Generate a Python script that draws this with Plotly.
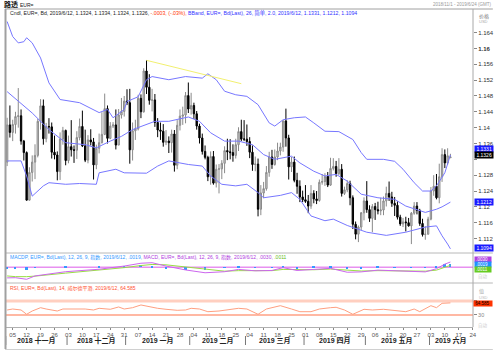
import pandas as pd
import plotly.graph_objects as go

# ---------------- data ----------------
opens = [1.1313, 1.1407, 1.1388, 1.1408, 1.1428, 1.1430, 1.1366, 1.1337, 1.1217, 1.1287, 1.1313, 1.1330, 1.1416, 1.1455, 1.1372, 1.1403, 1.1402, 1.1338, 1.1331, 1.1289, 1.1371, 1.1393,
         1.1317, 1.1352, 1.1344, 1.1343, 1.1375, 1.1403, 1.1354, 1.1318, 1.1369, 1.1364, 1.1306, 1.1348, 1.1362, 1.1383, 1.1448, 1.1373, 1.1404, 1.1407, 1.1356, 1.1432, 1.1441,
         1.1467, 1.1463, 1.1344, 1.1392, 1.1397, 1.1474, 1.1440, 1.1543, 1.1502, 1.1469, 1.1470, 1.1413, 1.1394, 1.1391, 1.1363, 1.1366, 1.1362, 1.1384, 1.1305, 1.1406, 1.1429, 1.1432, 1.1481,
         1.1447, 1.1456, 1.1435, 1.1404, 1.1374, 1.1340, 1.1325, 1.1276, 1.1327, 1.1260, 1.1295, 1.1296, 1.1310, 1.1342, 1.1339, 1.1337, 1.1330, 1.1357, 1.1390, 1.1371,
         1.1371, 1.1365, 1.1338, 1.1307, 1.1308, 1.1194, 1.1235, 1.1246, 1.1287, 1.1326, 1.1307, 1.1326, 1.1341, 1.1351, 1.1417, 1.1374, 1.1301, 1.1313, 1.1267, 1.1252, 1.1225,
         1.1218, 1.1214, 1.1202, 1.1234, 1.1220, 1.1216, 1.1262, 1.1264, 1.1277, 1.1255, 1.1297, 1.1302, 1.1284, 1.1295, 1.1234, 1.1243, 1.1259, 1.1223, 1.1156, 1.1131, 1.1149, 1.1185,
         1.1215, 1.1193, 1.1171, 1.1201, 1.1193, 1.1190, 1.1192, 1.1215, 1.1234, 1.1225, 1.1209, 1.1204, 1.1174, 1.1157, 1.1162, 1.1160, 1.1152, 1.1184, 1.1202, 1.1191, 1.1158, 1.1130, 1.1131,
         1.1169, 1.1240, 1.1252, 1.1223, 1.1276, 1.1332, 1.1311, 1.1324]
highs = [1.1425, 1.1456, 1.1420, 1.1440, 1.1500, 1.1446, 1.1369, 1.1340, 1.1300, 1.1330, 1.1358, 1.1422, 1.1472, 1.1471, 1.1412, 1.1424, 1.1413, 1.1380, 1.1340, 1.1388, 1.1402, 1.1395,
         1.1380, 1.1419, 1.1355, 1.1391, 1.1423, 1.1443, 1.1395, 1.1381, 1.1396, 1.1374, 1.1357, 1.1385, 1.1439, 1.1486, 1.1456, 1.1414, 1.1414, 1.1446, 1.1447, 1.1475, 1.1480,
         1.1497, 1.1498, 1.1413, 1.1420, 1.1483, 1.1484, 1.1550, 1.1570, 1.1535, 1.1498, 1.1485, 1.1424, 1.1413, 1.1409, 1.1394, 1.1378, 1.1395, 1.1394, 1.1419, 1.1446, 1.1453, 1.1490, 1.1514,
         1.1488, 1.1463, 1.1442, 1.1410, 1.1385, 1.1355, 1.1329, 1.1340, 1.1341, 1.1307, 1.1308, 1.1318, 1.1353, 1.1372, 1.1371, 1.1358, 1.1372, 1.1401, 1.1420, 1.1419,
         1.1408, 1.1376, 1.1355, 1.1327, 1.1322, 1.1255, 1.1263, 1.1303, 1.1339, 1.1344, 1.1345, 1.1362, 1.1362, 1.1418, 1.1448, 1.1382, 1.1326, 1.1327, 1.1286, 1.1267, 1.1241,
         1.1255, 1.1230, 1.1255, 1.1242, 1.1240, 1.1269, 1.1283, 1.1285, 1.1288, 1.1324, 1.1323, 1.1316, 1.1323, 1.1308, 1.1251, 1.1267, 1.1266, 1.1229, 1.1163, 1.1153, 1.1187, 1.1224,
         1.1265, 1.1204, 1.1207, 1.1210, 1.1213, 1.1223, 1.1226, 1.1251, 1.1264, 1.1238, 1.1225, 1.1214, 1.1180, 1.1172, 1.1175, 1.1172, 1.1187, 1.1212, 1.1212, 1.1195, 1.1170, 1.1151, 1.1175,
         1.1250, 1.1280, 1.1283, 1.1309, 1.1348, 1.1345, 1.1348, 1.1334]
lows = [1.1303, 1.1375, 1.1366, 1.1385, 1.1400, 1.1357, 1.1317, 1.1216, 1.1216, 1.1264, 1.1270, 1.1325, 1.1395, 1.1357, 1.1363, 1.1385, 1.1322, 1.1320, 1.1267, 1.1268, 1.1357, 1.1305,
        1.1310, 1.1327, 1.1311, 1.1321, 1.1368, 1.1351, 1.1313, 1.1310, 1.1355, 1.1269, 1.1295, 1.1335, 1.1360, 1.1381, 1.1360, 1.1371, 1.1399, 1.1345, 1.1356, 1.1423, 1.1428,
        1.1457, 1.1309, 1.1317, 1.1369, 1.1393, 1.1424, 1.1438, 1.1485, 1.1458, 1.1441, 1.1402, 1.1376, 1.1369, 1.1352, 1.1356, 1.1336, 1.1337, 1.1289, 1.1295, 1.1393, 1.1407, 1.1411, 1.1437,
        1.1433, 1.1422, 1.1395, 1.1360, 1.1332, 1.1320, 1.1265, 1.1256, 1.1256, 1.1249, 1.1234, 1.1270, 1.1285, 1.1318, 1.1320, 1.1314, 1.1322, 1.1341, 1.1366, 1.1366,
        1.1354, 1.1323, 1.1291, 1.1290, 1.1176, 1.1179, 1.1222, 1.1241, 1.1276, 1.1296, 1.1304, 1.1318, 1.1330, 1.1339, 1.1352, 1.1269, 1.1288, 1.1262, 1.1233, 1.1212, 1.1212,
        1.1210, 1.1184, 1.1195, 1.1209, 1.1207, 1.1213, 1.1256, 1.1253, 1.1250, 1.1253, 1.1292, 1.1276, 1.1280, 1.1226, 1.1230, 1.1237, 1.1204, 1.1144, 1.1118, 1.1111, 1.1141, 1.1166,
        1.1185, 1.1162, 1.1136, 1.1167, 1.1181, 1.1179, 1.1179, 1.1201, 1.1215, 1.1200, 1.1177, 1.1168, 1.1152, 1.1149, 1.1138, 1.1150, 1.1106, 1.1180, 1.1181, 1.1152, 1.1125, 1.1117, 1.1130,
        1.1166, 1.1228, 1.1219, 1.1209, 1.1263, 1.1298, 1.1306, 1.1324]
closes = [1.1407, 1.1388, 1.1408, 1.1428, 1.1430, 1.1366, 1.1337, 1.1217, 1.1287, 1.1313, 1.1330, 1.1416, 1.1455, 1.1372, 1.1403, 1.1402, 1.1338, 1.1331, 1.1289, 1.1371, 1.1393, 1.1317,
          1.1352, 1.1344, 1.1343, 1.1375, 1.1403, 1.1354, 1.1318, 1.1369, 1.1364, 1.1306, 1.1348, 1.1362, 1.1383, 1.1448, 1.1373, 1.1404, 1.1407, 1.1356, 1.1432, 1.1441, 1.1467,
          1.1463, 1.1344, 1.1392, 1.1397, 1.1474, 1.1440, 1.1543, 1.1502, 1.1469, 1.1470, 1.1413, 1.1394, 1.1391, 1.1363, 1.1366, 1.1362, 1.1384, 1.1305, 1.1406, 1.1429, 1.1432, 1.1481, 1.1447,
          1.1456, 1.1435, 1.1404, 1.1374, 1.1340, 1.1325, 1.1276, 1.1327, 1.1260, 1.1295, 1.1296, 1.1310, 1.1342, 1.1339, 1.1337, 1.1330, 1.1357, 1.1390, 1.1371, 1.1371,
          1.1365, 1.1338, 1.1307, 1.1308, 1.1194, 1.1235, 1.1246, 1.1287, 1.1326, 1.1307, 1.1326, 1.1341, 1.1351, 1.1417, 1.1374, 1.1301, 1.1313, 1.1267, 1.1252, 1.1225, 1.1218,
          1.1214, 1.1202, 1.1234, 1.1220, 1.1216, 1.1262, 1.1264, 1.1277, 1.1255, 1.1297, 1.1302, 1.1284, 1.1295, 1.1234, 1.1243, 1.1259, 1.1223, 1.1156, 1.1131, 1.1149, 1.1185, 1.1215,
          1.1193, 1.1171, 1.1201, 1.1193, 1.1190, 1.1192, 1.1215, 1.1234, 1.1225, 1.1209, 1.1204, 1.1174, 1.1157, 1.1162, 1.1160, 1.1152, 1.1184, 1.1202, 1.1191, 1.1158, 1.1130, 1.1131, 1.1169,
          1.1240, 1.1252, 1.1223, 1.1276, 1.1332, 1.1311, 1.1329, 1.1326]

# Bollinger bands (26, 2.0); *_day = business-day number since 2018-11-01
upper_day = [0, 2, 4, 6, 7, 9, 12, 15, 19, 26, 33, 36, 38, 42, 43, 47, 50, 52, 58, 64, 70, 72, 75, 78, 82, 86, 90, 94, 96, 99, 103, 107, 110, 114, 119, 124, 127, 129, 135, 139, 142, 146, 149, 152, 154, 157, 159]
upper_val = [1.1668, 1.1630, 1.1614, 1.1617, 1.1627, 1.1614, 1.1576, 1.1513, 1.1471, 1.1463, 1.1438, 1.1446, 1.1425, 1.1446, 1.1466, 1.1478, 1.1521, 1.1529, 1.1521, 1.1529, 1.1525, 1.1536, 1.1521, 1.1492, 1.1483, 1.1479, 1.1458, 1.1412, 1.1404, 1.1420, 1.1425, 1.1427, 1.1412, 1.1391, 1.1390, 1.1370, 1.1337, 1.1320, 1.1320, 1.1315, 1.1295, 1.1261, 1.1240, 1.1240, 1.1253, 1.1286, 1.1331]
mid_day = [0, 9, 15, 21, 28, 32, 37, 41, 45, 50, 53, 58, 65, 69, 73, 78, 83, 88, 92, 96, 102, 105, 110, 114, 118, 122, 127, 133, 139, 143, 148, 150, 154, 156, 159]
mid_val = [1.1491, 1.1437, 1.1395, 1.1362, 1.1357, 1.1349, 1.1366, 1.1378, 1.1395, 1.1408, 1.1416, 1.1416, 1.1427, 1.1416, 1.1387, 1.1366, 1.1366, 1.1357, 1.1332, 1.1320, 1.1328, 1.1311, 1.1290, 1.1278, 1.1282, 1.1265, 1.1232, 1.1223, 1.1219, 1.1202, 1.1190, 1.1186, 1.1194, 1.1200, 1.1212]
lower_day = [0, 5, 7, 9, 13, 15, 21, 26, 32, 33, 39, 42, 50, 54, 58, 62, 65, 70, 73, 77, 82, 86, 90, 92, 98, 102, 105, 109, 114, 117, 122, 129, 136, 143, 150, 154, 156, 158, 159]
lower_val = [1.1316, 1.1316, 1.1278, 1.1227, 1.1253, 1.1261, 1.1257, 1.1259, 1.1257, 1.1286, 1.1295, 1.1286, 1.1285, 1.1303, 1.1316, 1.1311, 1.1307, 1.1303, 1.1278, 1.1257, 1.1253, 1.1257, 1.1236, 1.1223, 1.1229, 1.1236, 1.1219, 1.1177, 1.1165, 1.1169, 1.1153, 1.1136, 1.1128, 1.1136, 1.1149, 1.1152, 1.1127, 1.1106, 1.1094]

trend_day = [50, 84]
trend_val = [1.1570, 1.1511]

macd_day = [0, 3, 7, 10, 21, 33, 42, 48, 52, 57, 64, 71, 78, 83, 89, 95, 99, 104, 110, 116, 122, 127, 133, 139, 145, 150, 154, 157, 159]
macd_val = [-0.0060, -0.0059, -0.0068, -0.0049, -0.0025, -0.0011, 0.0007, 0.0023, 0.0026, 0.0007, -0.0015, -0.0031, -0.0025, -0.0012, -0.0020, -0.0018, -0.0002, -0.0018, -0.0012, -0.0006, -0.0028, -0.0026, -0.0016, -0.0020, -0.0022, -0.0026, -0.0008, 0.0018, 0.0030]
signal_val = [-0.0049, -0.0053, -0.0053, -0.0050, -0.0033, -0.0016, -0.0002, 0.0010, 0.0016, 0.0014, 0.0002, -0.0014, -0.0022, -0.0019, -0.0019, -0.0019, -0.0012, -0.0013, -0.0014, -0.0010, -0.0016, -0.0021, -0.0019, -0.0019, -0.0020, -0.0022, -0.0016, -0.0001, 0.0011]

rsi_day = [0, 2, 5, 7, 9, 12, 14, 18, 20, 25, 28, 31, 33, 37, 40, 42, 45, 48, 51, 54, 57, 61, 64, 66, 69, 72, 76, 80, 83, 86, 90, 93, 98, 102, 105, 109, 112, 116, 118, 121, 124, 128, 131, 135, 140, 143, 146, 148, 152, 154, 156, 159]
rsi_val = [44.3, 47.1, 44.3, 32.0, 41.4, 50.9, 47.1, 41.4, 47.1, 46.3, 47.1, 44.3, 49.1, 46.3, 52.9, 47.1, 50.9, 58.6, 53.7, 49.1, 46.3, 43.4, 44.3, 49.1, 47.1, 39.4, 41.4, 46.3, 49.1, 47.1, 32.0, 47.1, 56.6, 47.1, 39.4, 39.4, 47.1, 50.9, 52.0, 44.3, 32.0, 46.3, 44.3, 46.3, 41.4, 39.4, 47.1, 39.4, 56.6, 50.9, 63.4, 64.585]

price_ticks = [1.112, 1.116, 1.12, 1.124, 1.128, 1.132, 1.136, 1.14, 1.144, 1.148, 1.152, 1.156, 1.16, 1.164]
price_tick_text = ["1.112", "1.116", "1.12", "1.124", "1.128", "", "1.136", "1.14", "1.144", "1.148", "1.152", "1.156", "<b>1.16</b>", "1.164"]
month_names = ["2018 十一月", "2018 十二月", "2019 一月", "2019 二月", "2019 三月", "2019 四月", "2019 五月", "2019 六月"]

# ---------------- layout helpers ----------------
W, H = 500, 352
L, R, T, B = 6, 23, 9, 25
PW, PH = W - L - R, H - T - B


def px(xp):
    return (xp - L) / PW


def py(yp):
    return (H - B - yp) / PH


FONT = "Liberation Sans, Noto Sans CJK SC, sans-serif"

days = pd.bdate_range("2018-11-01", "2019-06-12")
axis_days = pd.bdate_range("2018-11-01", "2019-06-24")
xs = list(range(len(days)))
mondays = [i for i, d in enumerate(axis_days) if d.weekday() == 0]
monday_text = [axis_days[i].strftime("%d") for i in mondays]
x_range = [-0.4, len(axis_days) - 1 + 0.1]

hist_val = [m - s for m, s in zip(macd_val, signal_val)]

fig = go.Figure()
fig.add_trace(go.Scatter(x=upper_day, y=upper_val, mode="lines", line=dict(color="#7777ff", width=1), hoverinfo="skip"))
fig.add_trace(go.Scatter(x=mid_day, y=mid_val, mode="lines", line=dict(color="#7777ff", width=1), hoverinfo="skip"))
fig.add_trace(go.Scatter(x=lower_day, y=lower_val, mode="lines", line=dict(color="#7777ff", width=1), hoverinfo="skip"))
fig.add_trace(go.Scatter(x=trend_day, y=trend_val, mode="lines", line=dict(color="#f2f070", width=1), hoverinfo="skip"))
fig.add_trace(go.Candlestick(
    x=xs, open=opens, high=highs, low=lows, close=closes,
    increasing=dict(line=dict(color="#8a8a8a", width=1), fillcolor="#cfcfcf"),
    decreasing=dict(line=dict(color="#000000", width=1), fillcolor="#000000"),
    whiskerwidth=0, hoverinfo="skip"))

fig.add_trace(go.Bar(x=macd_day, y=hist_val, yaxis="y2", marker=dict(color="#3399ff", line=dict(width=0)), width=0.7, hoverinfo="skip"))
fig.add_trace(go.Scatter(x=macd_day, y=signal_val, yaxis="y2", mode="lines", line=dict(color="#99dd44", width=1), hoverinfo="skip"))
fig.add_trace(go.Scatter(x=macd_day, y=macd_val, yaxis="y2", mode="lines", line=dict(color="#cc66ee", width=1), hoverinfo="skip"))
fig.add_trace(go.Scatter(x=rsi_day, y=rsi_val, yaxis="y3", mode="lines", line=dict(color="#ff9f80", width=1), hoverinfo="skip"))

shapes = []
# indicator reference lines
shapes.append(dict(type="line", xref="x", yref="y2", x0=x_range[0], x1=x_range[1], y0=0, y1=0, line=dict(color="#e890f0", width=1.5), layer="below"))
shapes.append(dict(type="line", xref="x", yref="y3", x0=x_range[0], x1=x_range[1], y0=70, y1=70, line=dict(color="#ffcfc0", width=3), layer="below"))
shapes.append(dict(type="line", xref="x", yref="y3", x0=x_range[0], x1=x_range[1], y0=30, y1=30, line=dict(color="#ffa085", width=1.5), layer="below"))
# panel separators and frame
for yp in (253, 283):
    shapes.append(dict(type="line", xref="paper", yref="paper", x0=px(5), x1=px(497), y0=py(yp), y1=py(yp), line=dict(color="#b8b8b8", width=1)))
shapes.append(dict(type="line", xref="paper", yref="paper", x0=px(5), x1=px(497), y0=py(9), y1=py(9), line=dict(color="#a0a0a0", width=1)))
shapes.append(dict(type="line", xref="paper", yref="paper", x0=px(5.5), x1=px(5.5), y0=py(9), y1=py(349), line=dict(color="#a0a0a0", width=2)))
shapes.append(dict(type="line", xref="paper", yref="paper", x0=px(5), x1=px(497), y0=py(349.5), y1=py(349.5), line=dict(color="#d0d0d0", width=1)))
shapes.append(dict(type="line", xref="paper", yref="paper", x0=px(477), x1=px(477), y0=py(9), y1=py(327), line=dict(color="#a8a8a8", width=1)))

# month separators and labels
month_starts = []
for i, d in enumerate(axis_days):
    if i == 0 or d.month != axis_days[i - 1].month:
        month_starts.append(i - 0.5)
month_bounds = month_starts + [x_range[1]]
annotations = []
for k, name in enumerate(month_names):
    a, b = month_bounds[k], month_bounds[k + 1]
    annotations.append(dict(x=(a + b) / 2, y=py(340.5), xref="x", yref="paper", text="<b>" + name + "</b>", showarrow=False,
                            font=dict(family=FONT, size=7, color="#222"), xanchor="center", yanchor="middle"))
for s in month_starts:
    shapes.append(dict(type="line", xref="x", yref="paper", x0=s, x1=s, y0=py(336), y1=py(345), line=dict(color="#777", width=1)))


def label(xp, yp, text, size=5, color="#333", anchor="left", bg=None):
    d = dict(x=px(xp), y=py(yp), xref="paper", yref="paper", text=text, showarrow=False,
             font=dict(family=FONT, size=size, color=color), xanchor=anchor, yanchor="middle")
    if bg:
        d.update(bgcolor=bg, borderpad=0)
    annotations.append(d)


# header
label(2, 4.5, "<b>路透</b> <span style='font-size:5px'>EUR=</span>", size=7, color="#111")
label(497, 4.5, "2018/11/1 - 2019/6/24 (GMT)", size=4.5, color="#999", anchor="right")
label(481, 16.5, "价格", size=5, color="#777")
label(481, 22, "USD", size=4, color="#aaa")

# legends
label(8, 12.7, "Cndl, EUR=, Bd, 2019/6/12, 1.1324, 1.1334, 1.1324, 1.1326, "
      "<span style='color:#ff3300'>-.0003, (-.03%), </span>"
      "<span style='color:#3333ff'>BBand, EUR=, Bd(Last), 26, 简单, 2.0, 2019/6/12, 1.1331, 1.1212, 1.1094</span>",
      size=5.2, color="#222")
label(8, 257.5, "<span style='color:#3399ff'>MACDP, EUR=, Bd(Last), 12, 26, 9, 指数, 2019/6/12, .0019, </span>"
      "<span style='color:#b040e0'>MACD, EUR=, Bd(Last), 12, 26, 9, 指数, 2019/6/12, .0030, </span>"
      "<span style='color:#66bb22'>.0011</span>", size=5)
label(8, 288, "RSI, EUR=, Bd(Last), 14, 威尔德平滑, 2019/6/12, 64.585", size=5, color="#ff5030")

# right-side value boxes
label(478, 149.0, " 1.1331 ", size=5, color="white", bg="#1a1aff")
label(478, 154.6, " 1.1326 ", size=5, color="white", bg="#000000")
label(478, 201.6, " 1.1212 ", size=5, color="white", bg="#1a1aff")
label(478, 248.3, " 1.1094 ", size=5, color="white", bg="#1a1aff")
label(478, 259.6, " .0030   ", size=4.5, color="white", bg="#b040e0")
label(478, 264.4, " .0019   ", size=4.5, color="white", bg="#1e90ff")
label(478, 269.2, " .0011   ", size=4.5, color="white", bg="#66cc22")
label(480, 276, "自动", size=4.5, color="#ccc")
label(481, 291.5, "值", size=5, color="#aaa")
label(481, 297, "USD", size=4, color="#bbb")
label(477, 303.5, " 64.585  ", size=4.5, color="black", bg="#ff3300")
label(480, 325.5, "自动", size=4.5, color="#ccc")

fig.update_layout(
    width=W, height=H, margin=dict(l=L, r=R, t=T, b=B),
    paper_bgcolor="white", plot_bgcolor="white", showlegend=False,
    shapes=shapes, annotations=annotations, bargap=0,
    xaxis=dict(range=x_range, anchor="y3", tickvals=mondays, ticktext=monday_text, ticks="outside", ticklen=2,
               tickcolor="#888", tickfont=dict(family=FONT, size=6, color="#555"), showgrid=False, zeroline=False,
               showline=True, linecolor="#b0b0b0", rangeslider=dict(visible=False), fixedrange=True),
    yaxis=dict(domain=[py(253), 1], range=[1.10835, 1.16996], side="right", tickvals=price_ticks, ticktext=price_tick_text,
               ticks="outside", ticklen=3, tickcolor="#888", tickfont=dict(family=FONT, size=6, color="#333"),
               showgrid=False, zeroline=False, showline=False),
    yaxis2=dict(domain=[py(283), py(253)], range=[-0.0089, 0.0081], showticklabels=False, ticks="",
                showgrid=False, zeroline=False, anchor="x"),
    yaxis3=dict(domain=[0, py(283)], range=[-4.3, 121.4], side="right", tickvals=[30, 70], ticktext=["30", ""],
                ticks="outside", ticklen=3, tickcolor="#888", tickfont=dict(family=FONT, size=5.5, color="#888"),
                showgrid=False, zeroline=False, anchor="x"),
)

fig.write_html("out.html")
